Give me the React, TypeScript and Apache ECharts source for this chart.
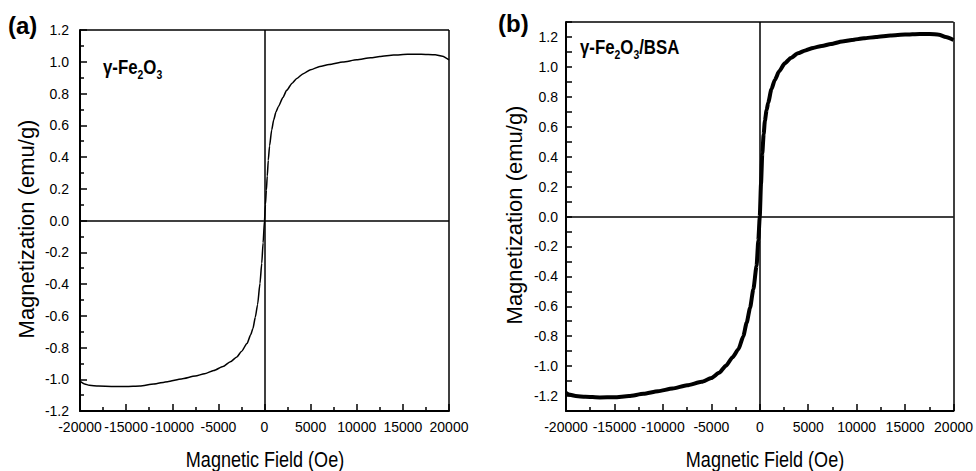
import React, { useEffect, useRef } from "react";
import * as echarts from "echarts";

// ---- data ----
const fieldA = [
  -20000, -19500, -19000, -18000, -16500, -15000, -13500, -12000, -10500, -9000, -7500, -6500,
  -5500, -4500, -3700, -3000, -2500, -1900, -1500, -1250, -1000, -750, -490, -300, -150, 0, 100,
  200, 300, 410, 550, 780, 1000, 1250, 1500, 2000, 2400, 3000, 3500, 4200, 5000, 6000, 7000, 8500,
  10000, 11500, 12500, 14000, 15500, 17000, 18500, 19300, 20000,
];
const magA = [
  -1.012, -1.03, -1.038, -1.043, -1.045, -1.045, -1.042, -1.03, -1.015, -0.998, -0.98, -0.965,
  -0.945, -0.92, -0.89, -0.86, -0.825, -0.775, -0.72, -0.68, -0.61, -0.53, -0.396, -0.27, -0.14,
  0, 0.1, 0.19, 0.28, 0.38, 0.47, 0.57, 0.635, 0.685, 0.717, 0.775, 0.82, 0.865, 0.895, 0.925,
  0.95, 0.97, 0.983, 0.998, 1.012, 1.025, 1.033, 1.042, 1.047, 1.047, 1.044, 1.035, 1.012,
];
const fieldB = [
  -20000, -19700, -19000, -18000, -16500, -15000, -13500, -12000, -10500, -9000, -7500, -6000,
  -5000, -4200, -3500, -2800, -2200, -1700, -1350, -1000, -665, -330, -150, 0, 130, 260, 400, 530,
  700, 870, 1200, 1550, 2000, 2580, 3200, 3940, 4700, 5500, 6400, 7350, 8500, 9500, 10760, 12000,
  13500, 15000, 16500, 17550, 18500, 19200, 20000,
];
const magB = [
  -1.18, -1.19, -1.2, -1.205, -1.209, -1.208, -1.2, -1.185, -1.168, -1.15, -1.128, -1.105, -1.08,
  -1.045, -0.998, -0.94, -0.887, -0.8, -0.709, -0.61, -0.487, -0.33, -0.16, 0, 0.22, 0.42, 0.55,
  0.64, 0.71, 0.76, 0.85, 0.913, 0.97, 1.024, 1.06, 1.091, 1.11, 1.127, 1.14, 1.153, 1.17, 1.18,
  1.191, 1.2, 1.21, 1.216, 1.22, 1.22, 1.215, 1.2, 1.18,
];
const xRange = [-20000, 20000];
const yRangeA = [-1.2, 1.2];
const yRangeB = [-1.3, 1.3];
const xName = "Magnetic Field (Oe)";
const yName = "Magnetization (emu/g)";

const SANS = '"Liberation Sans", Arial, sans-serif';

export default function App() {
  const ref = useRef<HTMLDivElement>(null);
  useEffect(() => {
    if (!ref.current) return;
    const chart = echarts.init(ref.current, undefined, { renderer: "svg" });
    const axisLabel = () => ({ color: "#000", fontSize: 14, fontFamily: SANS });
    const tick = (length: number) => ({
      show: true,
      inside: true,
      length,
      lineStyle: { color: "#000", width: 1.5 },
    });
    const minor = () => ({ show: true, splitNumber: 2, length: 4, lineStyle: { color: "#000", width: 1.5 } });
    const mainLine = () => ({ show: true, onZero: false, lineStyle: { color: "#000", width: 2 } });
    const mkX = (gridIndex: number) => ({
      type: "value",
      gridIndex,
      min: xRange[0],
      max: xRange[1],
      interval: 5000,
      axisLine: mainLine(),
      axisTick: tick(7),
      minorTick: minor(),
      axisLabel: {
        ...axisLabel(),
        margin: 9,
        interval: 0,
        showMinLabel: true,
        showMaxLabel: true,
        formatter: (v: number) => String(v),
      },
      splitLine: { show: false },
    });
    const rich = () => ({
      n: { fontSize: 21, fontWeight: "bold", fontFamily: SANS, color: "#000", lineHeight: 28 },
      s: { fontSize: 13, fontWeight: "bold", fontFamily: SANS, color: "#000", lineHeight: 12, verticalAlign: "bottom" },
    });
    // zero lines plus the top / right edges of the frame
    const frameLines = (yMax: number) => ({
      silent: true,
      symbol: "none",
      label: { show: false },
      lineStyle: { color: "#000", width: 1.5, type: "solid" },
      data: [{ xAxis: 0 }, { yAxis: 0 }, { xAxis: xRange[1] }, { yAxis: yMax }],
    });
    const nameFont = `22px ${SANS}`;
    chart.setOption({
      animation: false,
      grid: [
        { left: 80, top: 30, width: 369, height: 381 },
        { left: 566, top: 22, width: 391, height: 389 },
      ],
      xAxis: [mkX(0), mkX(1)],
      yAxis: [
        {
          type: "value",
          gridIndex: 0,
          min: yRangeA[0],
          max: yRangeA[1],
          interval: 0.2,
          axisLine: mainLine(),
          axisTick: tick(7),
          minorTick: minor(),
          axisLabel: { ...axisLabel(), margin: 11, formatter: (v: number) => v.toFixed(1) },
          splitLine: { show: false },
        },
        {
          type: "value",
          gridIndex: 1,
          min: yRangeB[0],
          max: yRangeB[1],
          interval: 0.1,
          axisLine: mainLine(),
          axisTick: tick(6),
          axisLabel: {
            ...axisLabel(),
            margin: 8,
            interval: 0,
            formatter: (v: number) => (Math.round(v * 10) % 2 === 0 ? v.toFixed(1) : ""),
          },
          splitLine: { show: false },
        },
      ],
      series: [
        {
          type: "line",
          xAxisIndex: 0,
          yAxisIndex: 0,
          data: fieldA.map((x, i) => [x, magA[i]]),
          showSymbol: false,
          clip: false,
          smooth: 0.2,
          smoothMonotone: "x",
          lineStyle: { color: "#000", width: 1.5 },
          markLine: frameLines(yRangeA[1]),
        },
        {
          type: "line",
          xAxisIndex: 1,
          yAxisIndex: 1,
          data: fieldB.map((x, i) => [x, magB[i]]),
          showSymbol: false,
          clip: false,
          smooth: 0.2,
          smoothMonotone: "x",
          lineStyle: { color: "#000", width: 4 },
          markLine: frameLines(yRangeB[1]),
        },
      ],
      graphic: [
        { type: "text", left: 8, top: 13, style: { text: "(a)", font: `bold 24px ${SANS}`, fill: "#000" } },
        { type: "text", left: 498, top: 11, style: { text: "(b)", font: `bold 24px ${SANS}`, fill: "#000" } },
        {
          type: "text",
          x: 103,
          y: 53,
          scaleX: 0.8,
          style: { text: "{n|γ-Fe}{s|2}{n|O}{s|3}", rich: rich(), verticalAlign: "top" },
        },
        {
          type: "text",
          x: 580,
          y: 33,
          scaleX: 0.8,
          style: { text: "{n|γ-Fe}{s|2}{n|O}{s|3}{n|/BSA}", rich: rich(), verticalAlign: "top" },
        },
        {
          type: "text",
          x: 265,
          y: 459,
          scaleX: 0.82,
          style: { text: xName, font: nameFont, fill: "#000", align: "center", verticalAlign: "middle" },
        },
        {
          type: "text",
          x: 765,
          y: 459,
          scaleX: 0.82,
          style: { text: xName, font: nameFont, fill: "#000", align: "center", verticalAlign: "middle" },
        },
        {
          type: "text",
          x: 26,
          y: 229,
          rotation: Math.PI / 2,
          style: { text: yName, font: nameFont, fill: "#000", align: "center", verticalAlign: "middle" },
        },
        {
          type: "text",
          x: 514,
          y: 215,
          rotation: Math.PI / 2,
          style: { text: yName, font: nameFont, fill: "#000", align: "center", verticalAlign: "middle" },
        },
      ],
    });
    return () => chart.dispose();
  }, []);
  return (
    <div
      ref={ref}
      style={{ position: "absolute", left: 0, top: 0, width: 976, height: 471, background: "#fff" }}
    />
  );
}
